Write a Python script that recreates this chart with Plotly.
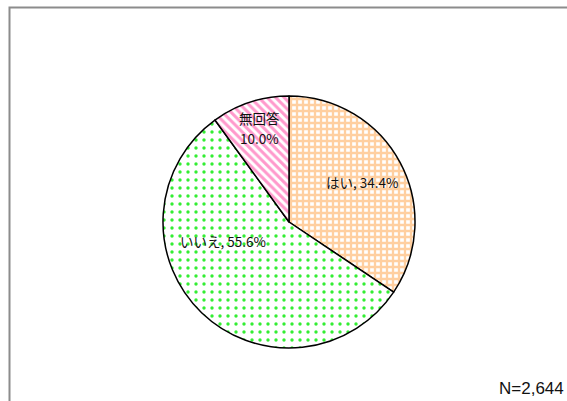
import plotly.graph_objects as go

labels = ["はい", "いいえ", "無回答"]
values = [34.4, 55.6, 10.0]
text_labels = ["はい, 34.4%", "いいえ, 55.6%", "無回答<br>10.0%"]
note = "N=2,644"

W, H = 567, 401
cx, cy, r = 289, 222, 126

def px(x):
    return x / W

def py(y):
    return 1 - y / H

fig = go.Figure(go.Pie(
    labels=labels,
    values=values,
    sort=False,
    direction="clockwise",
    rotation=0,
    textinfo="none",
    hoverinfo="label+percent",
    marker=dict(
        colors=["white", "white", "white"],
        line=dict(color="black", width=1.5),
        pattern=dict(
            shape=["+", ".", "\\"],
            fgcolor=["#FFCFA0", "#33EE33", "#FF99CC"],
            bgcolor=["white", "white", "white"],
            size=[6, 8, 6],
            solidity=[0.62, 0.14, 0.5],
            fillmode="replace",
        ),
    ),
    domain=dict(x=[px(cx - r), px(cx + r)], y=[py(cy + r), py(cy - r)]),
    showlegend=False,
))

font = dict(family="Noto Sans CJK JP", size=13.5, color="#111111")
pos = [(362, 182), (223, 241), (259, 118)]
for t, (x, y) in zip(text_labels, pos):
    for i, line in enumerate(t.split("<br>")):
        fig.add_annotation(x=px(x), y=py(y + 20 * i), xref="paper", yref="paper",
                           text=line, showarrow=False, font=font,
                           xanchor="center", yanchor="middle")

fig.add_annotation(x=px(531), y=py(388), xref="paper", yref="paper", text=note,
                   showarrow=False, xanchor="center", yanchor="middle",
                   font=dict(family="Liberation Sans", size=17, color="#111111"))

fig.add_shape(type="rect", xref="paper", yref="paper",
              x0=px(9.5), x1=1.05, y0=-0.05, y1=py(7.5),
              line=dict(color="#8c8c8c", width=2))

fig.update_layout(width=W, height=H, margin=dict(l=0, r=0, t=0, b=0),
                  paper_bgcolor="white", plot_bgcolor="white")

fig.write_html("out.html", config={"displayModeBar": False},
               post_script="document.body.style.margin='0';document.body.style.padding='0';document.body.style.overflow='hidden';")
